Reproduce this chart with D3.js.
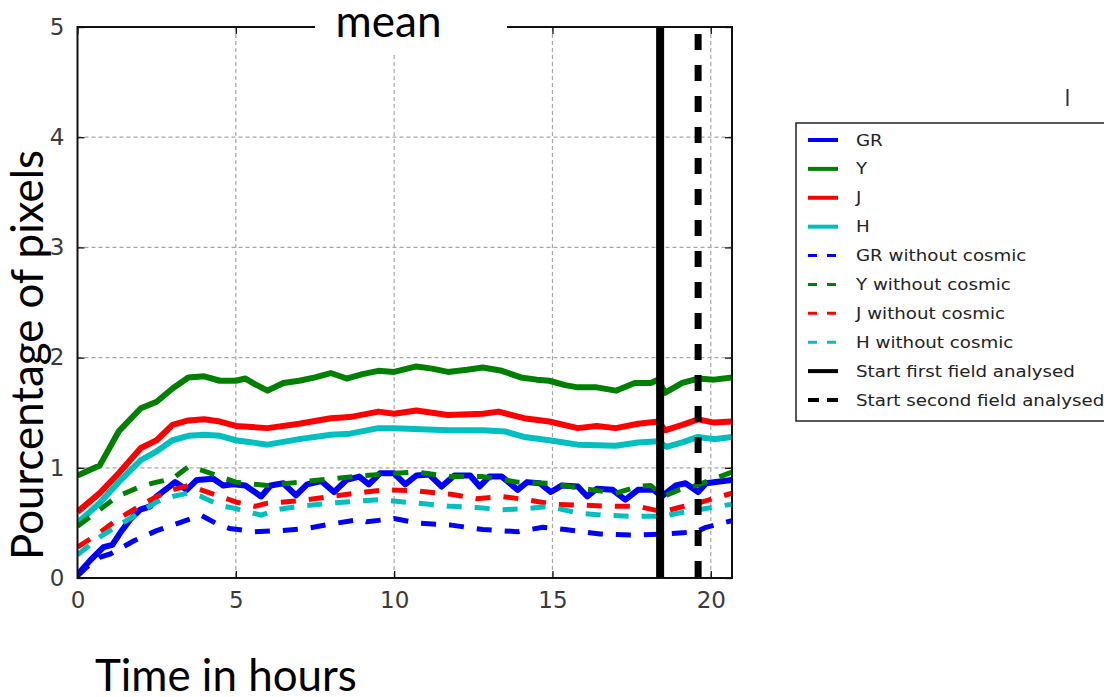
<!DOCTYPE html>
<html>
<head>
<meta charset="utf-8">
<script src="https://cdn.jsdelivr.net/npm/d3@7"></script>
<style>
  html, body { margin: 0; padding: 0; background: #fff; }
  svg { display: block; }
</style>
</head>
<body>
<svg id="chart" width="1104" height="697"></svg>
<script>
// Time axis (hours) and series values (percentage of pixels)
const tGR = [0,0.4,0.82,1.1,1.35,1.66,1.98,2.3,2.5,2.82,3.08,3.45,3.77,4.29,4.6,4.92,5.3,5.8,6.1,6.5,6.9,7.25,7.7,8.1,8.5,8.9,9.2,9.55,10,10.35,10.7,11.1,11.5,11.9,12.4,12.7,13,13.4,13.9,14.2,14.6,14.95,15.3,15.8,16.1,16.4,16.9,17.3,17.7,18.2,18.45,18.9,19.2,19.6,19.85,20.67];
const vGR = [0.03,0.16,0.28,0.30,0.41,0.53,0.62,0.65,0.74,0.81,0.87,0.80,0.89,0.90,0.84,0.85,0.84,0.74,0.84,0.86,0.75,0.85,0.88,0.78,0.89,0.92,0.85,0.95,0.95,0.85,0.93,0.94,0.83,0.93,0.93,0.83,0.92,0.92,0.80,0.87,0.86,0.78,0.84,0.83,0.74,0.81,0.80,0.71,0.80,0.80,0.74,0.84,0.86,0.78,0.86,0.89];

const tY = [0,0.7,1.3,2,2.5,3,3.5,4,4.5,5,5.3,5.6,6,6.5,7,7.5,8,8.5,9,9.5,10,10.7,11.2,11.7,12.3,12.8,13.4,14,14.5,14.9,15.4,15.8,16.4,17,17.6,18.1,18.35,18.55,19.1,19.6,20.1,20.67];
const vY = [0.93,1.02,1.33,1.54,1.60,1.72,1.82,1.83,1.79,1.79,1.81,1.76,1.70,1.77,1.79,1.82,1.86,1.81,1.85,1.88,1.87,1.92,1.90,1.87,1.89,1.91,1.88,1.82,1.80,1.79,1.75,1.73,1.73,1.70,1.77,1.77,1.80,1.68,1.77,1.81,1.80,1.82];

const tJ = [0,0.7,1.3,2,2.5,3,3.5,4,4.5,5,6,7,8,8.6,9.5,10,10.7,11.7,12.8,13.3,14.1,14.9,15.8,16.4,17,17.7,18.35,18.55,19.1,19.6,20.1,20.67];
const vJ = [0.60,0.77,0.95,1.18,1.25,1.39,1.43,1.44,1.42,1.38,1.36,1.40,1.45,1.46,1.51,1.49,1.52,1.48,1.49,1.51,1.45,1.42,1.36,1.38,1.36,1.40,1.42,1.34,1.39,1.44,1.41,1.42];

const tH = [0,0.7,1.3,2,2.5,3,3.5,4,4.5,5,6,7,8,8.6,9.5,10,11.7,12.8,13.5,14.1,14.9,15.8,17,17.7,18.35,18.6,19.1,19.6,20.1,20.67];
const vH = [0.50,0.68,0.87,1.07,1.15,1.25,1.29,1.30,1.29,1.25,1.21,1.26,1.30,1.31,1.36,1.36,1.34,1.34,1.33,1.28,1.25,1.21,1.20,1.23,1.24,1.19,1.23,1.28,1.26,1.28];

const tGRnc = [0,0.3,0.72,1.05,1.8,2.5,3,3.5,3.9,4.35,4.8,5.6,6.4,7.25,8,8.9,9.14,10,10.7,11.8,12.8,13.9,14.7,15.4,16.5,17.5,18.6,19.55,19.85,20.67];
const vGRnc = [0.02,0.10,0.19,0.22,0.34,0.43,0.48,0.53,0.57,0.50,0.45,0.42,0.43,0.45,0.49,0.53,0.51,0.54,0.50,0.48,0.44,0.42,0.46,0.44,0.40,0.39,0.40,0.42,0.46,0.52];

const tYnc = [0,0.7,1.25,2,2.5,3,3.5,3.9,4.5,5,5.6,6,7,8,9.1,10,10.7,11.8,12.8,13.9,14.9,16,17,17.7,18.1,18.5,19,19.55,20,20.67];
const vYnc = [0.47,0.62,0.74,0.83,0.87,0.90,1.01,0.98,0.92,0.87,0.85,0.84,0.87,0.90,0.93,0.95,0.96,0.92,0.92,0.87,0.86,0.81,0.77,0.83,0.84,0.74,0.80,0.84,0.89,0.96];

const tJnc = [0,0.7,1.25,2,2.5,3,3.5,3.9,4.5,5,5.6,6,7,8,9.1,9.7,10.7,11.8,12.6,13.4,14.2,15,16,17,17.7,18.5,19,19.6,20.67];
const vJnc = [0.28,0.41,0.53,0.66,0.74,0.80,0.84,0.80,0.74,0.69,0.65,0.68,0.70,0.74,0.78,0.80,0.79,0.76,0.72,0.74,0.71,0.67,0.66,0.65,0.65,0.60,0.64,0.68,0.77];

const tHnc = [0,0.7,1.25,2,2.5,3,3.5,3.9,4.5,5,5.8,6.3,7,8,9.5,10.7,11.8,12.6,13.4,14.2,14.9,15.8,16.6,17.5,18.5,19,19.6,20.67];
const vHnc = [0.21,0.37,0.47,0.60,0.69,0.74,0.77,0.74,0.66,0.63,0.57,0.62,0.65,0.68,0.71,0.68,0.65,0.64,0.62,0.63,0.65,0.59,0.57,0.56,0.56,0.59,0.62,0.67];

// Field start markers (hours)
const fieldStarts = [18.4, 19.6];

const xTicks = [0, 5, 10, 15, 20];
const yTicks = [0, 1, 2, 3, 4, 5];

const seriesNames = ["GR", "Y", "J", "H", "GR without cosmic", "Y without cosmic", "J without cosmic", "H without cosmic"];
const seriesColors = ["#0000ff", "#008000", "#ff0000", "#00bfbf", "#0000ff", "#008000", "#ff0000", "#00bfbf"];
const seriesTimes = [tGR, tY, tJ, tH, tGRnc, tYnc, tJnc, tHnc];
const seriesValues = [vGR, vY, vJ, vH, vGRnc, vYnc, vJnc, vHnc];
const markerNames = ["Start first field analysed", "Start second field analysed"];

const svg = d3.select("#chart");

const plot = { left: 77.5, right: 732, top: 27, bottom: 578 };
const x = d3.scaleLinear().domain([0, 20.67]).range([plot.left, plot.right]);
const y = d3.scaleLinear().domain([0, 5]).range([plot.bottom, plot.top]);

svg.append("defs").append("clipPath").attr("id", "plotclip")
  .append("rect")
  .attr("x", plot.left).attr("y", plot.top)
  .attr("width", plot.right - plot.left).attr("height", plot.bottom - plot.top);

// Grid
const grid = svg.append("g").attr("stroke", "#a8a8a8").attr("stroke-width", 1.2).attr("stroke-dasharray", "4,3");
grid.selectAll("line.gx").data(xTicks.filter(d => d > 0)).join("line")
  .attr("x1", d => x(d)).attr("x2", d => x(d))
  .attr("y1", plot.top).attr("y2", plot.bottom);
grid.selectAll("line.gy").data(yTicks.filter(d => d > 0 && d < 5)).join("line")
  .attr("y1", d => y(d)).attr("y2", d => y(d))
  .attr("x1", plot.left).attr("x2", plot.right);

// Series lines
const line = d3.line().x(d => x(d[0])).y(d => y(d[1]));
const lines = svg.append("g").attr("clip-path", "url(#plotclip)");
seriesNames.forEach((name, i) => {
  const pts = seriesTimes[i].map((t, k) => [t, seriesValues[i][k]]);
  const dashed = i >= 4;
  lines.append("path")
    .datum(pts)
    .attr("fill", "none")
    .attr("stroke", seriesColors[i])
    .attr("stroke-width", dashed ? 5 : 6)
    .attr("stroke-linejoin", "round")
    .attr("stroke-dasharray", dashed ? "15,13" : null)
    .attr("d", line);
});

// Field start verticals
lines.append("line")
  .attr("x1", x(fieldStarts[0])).attr("x2", x(fieldStarts[0]))
  .attr("y1", plot.top).attr("y2", plot.bottom)
  .attr("stroke", "#000").attr("stroke-width", 8);
lines.append("line")
  .attr("x1", x(fieldStarts[1])).attr("x2", x(fieldStarts[1]))
  .attr("y1", plot.top + 7).attr("y2", plot.bottom)
  .attr("stroke", "#000").attr("stroke-width", 7)
  .attr("stroke-dasharray", "16,15");

// Axes with inward ticks on all four sides
const tickLen = 7;
const xAxisB = d3.axisBottom(x).tickValues(xTicks).tickSize(-tickLen).tickPadding(14).tickFormat(d3.format("d"));
const xAxisT = d3.axisTop(x).tickValues(xTicks).tickSize(-tickLen).tickFormat("");
const yAxisL = d3.axisLeft(y).tickValues(yTicks).tickSize(-tickLen).tickPadding(13).tickFormat(d3.format("d"));
const yAxisR = d3.axisRight(y).tickValues(yTicks).tickSize(-tickLen).tickFormat("");

function styleAxis(g) {
  g.select(".domain").remove();
  g.selectAll(".tick line").attr("stroke", "#111").attr("stroke-width", 1.3);
  g.selectAll(".tick text")
    .attr("fill", "#3a3a3a")
    .style("font-family", "'DejaVu Sans', sans-serif")
    .style("font-size", "23px");
}
svg.append("g").attr("transform", `translate(0,${plot.bottom})`).call(xAxisB).call(styleAxis)
  .selectAll(".tick text").attr("dy", "0.71em");
svg.append("g").attr("transform", `translate(0,${plot.top})`).call(xAxisT).call(styleAxis);
svg.append("g").attr("transform", `translate(${plot.left},0)`).call(yAxisL).call(styleAxis);
svg.append("g").attr("transform", `translate(${plot.right},0)`).call(yAxisR).call(styleAxis);

// Frame
svg.append("rect")
  .attr("x", plot.left).attr("y", plot.top)
  .attr("width", plot.right - plot.left).attr("height", plot.bottom - plot.top)
  .attr("fill", "none").attr("stroke", "#111").attr("stroke-width", 2);

// Title box over the top spine
svg.append("rect").attr("x", 315).attr("y", 0).attr("width", 192).attr("height", 55).attr("fill", "#fff");

function fitText(sel, target) {
  const node = sel.node();
  const fs = parseFloat(sel.style("font-size"));
  const w = node.getComputedTextLength();
  if (w > 0) sel.style("font-size", (fs * target / w) + "px");
  return sel;
}

const slideFont = "Lato, 'Open Sans', sans-serif";

fitText(svg.append("text")
  .attr("x", 388.5).attr("y", 37).attr("text-anchor", "middle")
  .style("font-family", slideFont).style("font-size", "42px").attr("fill", "#000")
  .text("mean"), 106);

fitText(svg.append("text")
  .attr("x", 95).attr("y", 691)
  .style("font-family", slideFont).style("font-size", "40px").attr("fill", "#000")
  .text("Time in hours"), 262);

fitText(svg.append("text")
  .attr("transform", "translate(43,355) rotate(-90)")
  .attr("text-anchor", "middle")
  .style("font-family", slideFont).style("font-size", "40px").attr("fill", "#000")
  .text("Pourcentage of pixels"), 410);

// Small stray mark at the upper right
svg.append("line").attr("x1", 1067.5).attr("x2", 1067.5).attr("y1", 89).attr("y2", 106)
  .attr("stroke", "#333").attr("stroke-width", 2);

// Legend
const legend = svg.append("g");
legend.append("rect")
  .attr("x", 796).attr("y", 123).attr("width", 340).attr("height", 298)
  .attr("fill", "#fff").attr("stroke", "#222").attr("stroke-width", 1.5);

const legendItems = seriesNames.map((n, i) => ({ name: n, color: seriesColors[i], dashed: i >= 4, black: false }))
  .concat(markerNames.map((n, i) => ({ name: n, color: "#000", dashed: i === 1, black: true })));

const rowY = d3.scaleLinear().domain([0, legendItems.length - 1]).range([140, 400]);
legendItems.forEach((it, i) => {
  const cy = rowY(i);
  legend.append("line")
    .attr("x1", 808).attr("x2", 838).attr("y1", cy).attr("y2", cy)
    .attr("stroke", it.color)
    .attr("stroke-width", it.dashed && !it.black ? 3 : 4)
    .attr("stroke-dasharray", it.dashed ? (it.black ? "11,8" : "9,10") : null);
  legend.append("text")
    .attr("transform", `translate(856,${cy + 5.5}) scale(1.14,1)`)
    .style("font-family", "'DejaVu Sans', sans-serif").style("font-size", "16px")
    .attr("fill", "#222")
    .text(it.name);
});
</script>
</body>
</html>
